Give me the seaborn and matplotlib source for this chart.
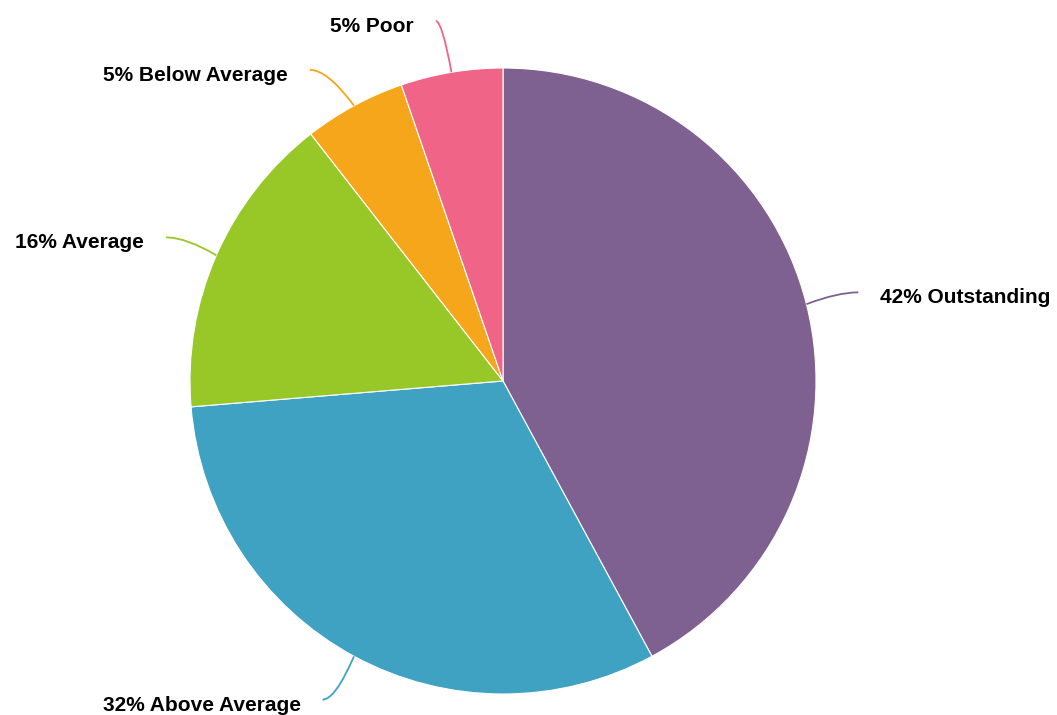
import numpy as np
import matplotlib.pyplot as plt
from matplotlib.path import Path
from matplotlib.patches import PathPatch
import seaborn as sns

# ── Data ─────────────────────────────────────────────────────────────────────
categories = ["Outstanding", "Above Average", "Average", "Below Average", "Poor"]
counts = [8, 6, 3, 1, 1]
colors = ["#7E6190", "#40A2C3", "#98C728", "#F5A61B", "#F06487"]

# small angular nudges (deg, clockwise) so labels don't crowd each other
label_shift_deg = [0.2, 1.1, -0.6, -3.4, -1.1]

# ── Layout (pixel coordinates, y pointing up) ───────────────────────────────
W, H = 1057, 715
CX, CY = 503, H - 381
R = 313
LINE_R = 1.17 * R

sns.set_style("white")
plt.rcParams["font.family"] = ["Liberation Sans", "DejaVu Sans"]

fig = plt.figure(figsize=(W / 100, H / 100), dpi=100)
ax = fig.add_axes([0, 0, 1, 1])

wedges, _ = ax.pie(
    counts, colors=colors, startangle=90, counterclock=False,
    center=(CX, CY), radius=R, frame=True,
    wedgeprops={"edgecolor": "white", "linewidth": 0.8},
)
ax.set_xlim(0, W)
ax.set_ylim(0, H)
ax.set_aspect("equal")
ax.axis("off")

total = sum(counts)
for w, cat, n, col, shift in zip(wedges, categories, counts, colors, label_shift_deg):
    mid = np.deg2rad((w.theta1 + w.theta2) / 2)
    lab = mid - np.deg2rad(shift)
    p0 = (CX + R * np.cos(mid), CY + R * np.sin(mid))
    p2 = (CX + LINE_R * np.cos(lab), CY + LINE_R * np.sin(lab))
    ctrl = (p0[0] + 0.6 * (p2[0] - p0[0]), p2[1])
    path = Path([p0, ctrl, p2], [Path.MOVETO, Path.CURVE3, Path.CURVE3])
    ax.add_patch(PathPatch(path, fc="none", ec=col, lw=1.3))

    right = np.cos(lab) >= 0
    tx = p2[0] + (22 if right else -22)
    pct = round(100 * n / total)
    ax.text(tx, p2[1] - 11, f"{pct}% {cat}", ha="left" if right else "right",
            va="baseline", fontsize=15, fontweight="bold", color="#000000")

fig.savefig("out.png", dpi=100, facecolor="white")
